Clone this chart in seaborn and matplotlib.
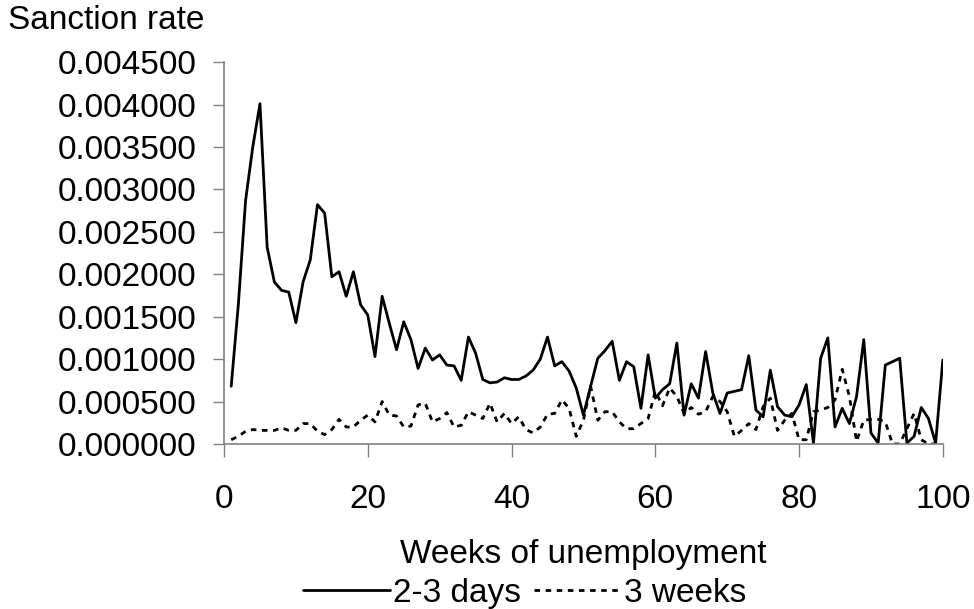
import pandas as pd
import matplotlib.pyplot as plt
import seaborn as sns

# weekly sanction rates
weeks = list(range(1, 101))

rate_2_3_days = [
    0.00068, 0.00165, 0.00287, 0.00350, 0.00401, 0.00232, 0.00191, 0.00181, 0.00179, 0.00143,
    0.00191, 0.00217, 0.00282, 0.00272, 0.00197, 0.00203, 0.00174, 0.00203, 0.00164, 0.00152,
    0.00103, 0.00174, 0.00142, 0.00111, 0.00144, 0.00123, 0.00089, 0.00113, 0.00099, 0.00105,
    0.00093, 0.00092, 0.00075, 0.00126, 0.00107, 0.00076, 0.00072, 0.00073, 0.00078, 0.00076,
    0.00076, 0.00080, 0.00087, 0.00100, 0.00126, 0.00092, 0.00097, 0.00086, 0.00066, 0.00034,
    0.00068, 0.00101, 0.00110, 0.00121, 0.00075, 0.00097, 0.00091, 0.00042, 0.00105, 0.00054,
    0.00064, 0.00071, 0.00119, 0.00034, 0.00071, 0.00054, 0.00109, 0.00060, 0.00036, 0.00060,
    0.00062, 0.00064, 0.00104, 0.00040, 0.00032, 0.00087, 0.00044, 0.00034, 0.00032, 0.00046,
    0.00070, 0.00001, 0.00101, 0.00125, 0.00020, 0.00042, 0.00024, 0.00056, 0.00123, 0.00013,
    0.00001, 0.00093, 0.00097, 0.00101, 0.00001, 0.00009, 0.00043, 0.00030, 0.00001, 0.00099,
]

rate_3_weeks = [
    0.00005, 0.00009, 0.00015, 0.00017, 0.00016, 0.00016, 0.00016, 0.00019, 0.00016, 0.00016,
    0.00024, 0.00024, 0.00015, 0.00011, 0.00017, 0.00029, 0.00020, 0.00020, 0.00028, 0.00034,
    0.00026, 0.00050, 0.00034, 0.00033, 0.00020, 0.00021, 0.00046, 0.00048, 0.00026, 0.00030,
    0.00037, 0.00020, 0.00022, 0.00038, 0.00034, 0.00030, 0.00048, 0.00026, 0.00036, 0.00024,
    0.00032, 0.00017, 0.00013, 0.00020, 0.00035, 0.00036, 0.00052, 0.00042, 0.00009, 0.00028,
    0.00068, 0.00028, 0.00038, 0.00038, 0.00026, 0.00018, 0.00018, 0.00024, 0.00030, 0.00062,
    0.00045, 0.00066, 0.00056, 0.00036, 0.00043, 0.00035, 0.00038, 0.00056, 0.00050, 0.00038,
    0.00009, 0.00016, 0.00024, 0.00017, 0.00044, 0.00054, 0.00016, 0.00028, 0.00036, 0.00005,
    0.00005, 0.00038, 0.00040, 0.00043, 0.00052, 0.00088, 0.00056, 0.00003, 0.00028, 0.00029,
    0.00029, 0.00026, 0.00000, 0.00000, 0.00018, 0.00036, 0.00005, 0.00000, 0.00000, 0.00000,
]

y_ticks = [0.0, 0.0005, 0.001, 0.0015, 0.002, 0.0025, 0.003, 0.0035, 0.004, 0.0045]
x_ticks = [0, 20, 40, 60, 80, 100]

df = pd.DataFrame({'week': weeks, 'days': rate_2_3_days, 'weeks3': rate_3_weeks})

sns.set_style('white')
plt.rcParams['font.family'] = ['Liberation Sans', 'DejaVu Sans']
plt.rcParams['text.color'] = 'black'
fs = 24

fig = plt.figure(figsize=(9.74, 6.09), dpi=100)
ax = fig.add_axes([0.23, 0.271, 0.738, 0.627])

sns.lineplot(data=df, x='week', y='days', ax=ax, color='black', linewidth=2,
             label='2-3 days')
sns.lineplot(data=df, x='week', y='weeks3', ax=ax, color='black', linewidth=2,
             linestyle=(0, (2, 2)), label='3 weeks')

ax.set_xlim(0, 100)
ax.set_ylim(0, 0.0045)
ax.set_xticks(x_ticks)
ax.set_yticks(y_ticks)
ax.set_yticklabels([f'{v:.6f}' for v in y_ticks])
ax.tick_params(axis='x', direction='out', length=9, width=1, color='#808080',
               labelcolor='black', labelsize=fs, pad=20)
ax.tick_params(axis='y', direction='out', length=8, width=1, color='#808080',
               labelcolor='black', labelsize=fs, pad=12)
ax.tick_params(bottom=True, left=True)

for side in ['top', 'right']:
    ax.spines[side].set_visible(False)
for side in ['left', 'bottom']:
    ax.spines[side].set_color('#808080')
    ax.spines[side].set_linewidth(1.2)

ax.set_ylabel('')
ax.set_xlabel('Weeks of unemployment', fontsize=fs, labelpad=17, color='black')
fig.text(0.008, 0.967, 'Sanction rate', fontsize=fs, va='center', ha='left')

ax.legend(loc='center', bbox_to_anchor=(0.539, 0.026), bbox_transform=fig.transFigure,
          ncol=2, frameon=False, fontsize=fs, handlelength=2.6, handletextpad=0.1,
          columnspacing=0.4, borderaxespad=0)

fig.savefig('out.png', dpi=100)
